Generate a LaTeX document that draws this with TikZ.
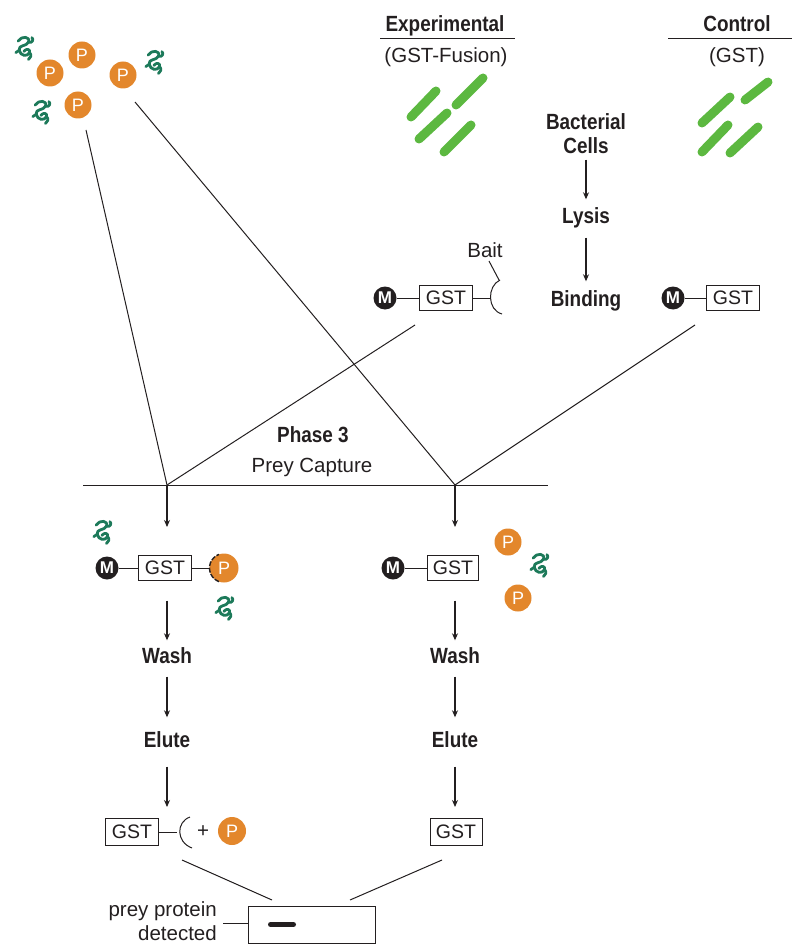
\documentclass[tikz,border=0pt]{standalone}
\usepackage{fontspec}
\setmainfont{Liberation Sans}
\newfontfamily\headfont[FakeStretch=0.86]{Liberation Sans}
\usetikzlibrary{arrows.meta}
\definecolor{ink}{HTML}{231F20}
\definecolor{porange}{HTML}{E3872C}
\definecolor{rodgreen}{HTML}{5CB840}
\definecolor{protgreen}{HTML}{1D7A5A}
\tikzset{
  protein/.pic={
    \begin{scope}[scale=1.15, protgreen, line width=2.8pt, line cap=round, line join=round]
    \draw (-6,-6) .. controls (-3,-11) and (5,-10) .. (3,-5)
              .. controls (1,-1) and (-6,-3) .. (-5,2)
              .. controls (-4,7) and (2,8) .. (4,4)
              .. controls (5,1) and (1,0) .. (-1,3);
    \draw (3,-5) .. controls (6,-4) and (8,-7) .. (6,-9);
    \draw (-5,2) -- (-8,4);
    \draw (4,4) .. controls (6,6) and (5,9) .. (3,10);
    \end{scope}
  }
}
\begin{document}
\begin{tikzpicture}[x=1pt,y=-1pt,
  lbl/.style={font=\fontsize{20.5}{22}\selectfont, text=ink, inner sep=0pt},
  head/.style={font=\headfont\bfseries\fontsize{22}{24}\selectfont, text=ink,
    inner sep=0pt, text height=15pt, text depth=0pt},
  gstbox/.style={draw=ink, line width=1pt, minimum width=53pt, minimum height=25pt,
    inner sep=0pt, font=\fontsize{19.5}{20}\selectfont, text=ink},
  mball/.style={circle, fill=ink, minimum size=23pt, inner sep=0pt, text=white,
    font=\bfseries\fontsize{17}{17}\selectfont},
  pball/.style={circle, fill=porange, minimum size=27pt, inner sep=0pt, text=white,
    font=\fontsize{18}{18}\selectfont},
  link/.style={draw=ink, line width=1pt},
  arr/.style={draw=ink, line width=1.1pt, -{Stealth[length=7pt,width=6pt]}},
  rod/.style={draw=rodgreen, line width=9pt, line cap=round}
]
\useasboundingbox (0,0) rectangle (792,944);

% ---- prey lysate (proteins P and other proteins)
\node[pball] (pa) at (50,73) {P};
\node[pball] (pb) at (82,55) {P};
\node[pball] (pc) at (123,75) {P};
\node[pball] (pd) at (78,105) {P};
\pic at (25,48) {protein};
\pic at (155,62) {protein};
\pic at (42,112) {protein};

% ---- experimental and control headings
\node[head] (exp) at (445,24) {Experimental};
\coordinate (expulA) at (380,39);
\coordinate (expulB) at (515,39);
\draw[link] (expulA) -- (expulB);
\node[lbl] (expsub) at (446,57) {(GST-Fusion)};

\node[head] (ctl) at (737,24) {Control};
\coordinate (ctlulA) at (668,39);
\coordinate (ctlulB) at (792,39);
\draw[link] (ctlulA) -- (ctlulB);
\node[lbl] (ctlsub) at (737,57) {(GST)};

% ---- bacterial cells
\draw[rod] (411,117) -- (436,91);
\draw[rod] (456,105) -- (483,78);
\draw[rod] (419,139) -- (447,113);
\draw[rod] (444,152) -- (471,125);

\draw[rod] (702,123) -- (730,97);
\draw[rod] (745,100) -- (768,82);
\draw[rod] (702,152) -- (728,125);
\draw[rod] (730,153) -- (758,127);

% ---- central procedure
\node[head] (bact) at (586,122) {Bacterial};
\node[head] (cells) at (586,146) {Cells};
\node[head] (lysis) at (586,216) {Lysis};
\node[head] (bind) at (586,299) {Binding};
\draw[arr, shorten <=6pt, shorten >=9pt] (cells) -- (lysis);
\draw[arr, shorten <=14pt, shorten >=10pt] (lysis) -- (bind);

% ---- immobilised bait (experimental)
\node[mball] (m1) at (385,298) {M};
\node[gstbox] (g1) at (446,298) {GST};
\coordinate (b1) at (491,298);
\draw[link] (m1) -- (g1);
\draw[link] (g1) -- (b1);
\draw[link] ([shift={(9,-18)}]b1) .. controls ([shift={(-4,-12)}]b1) and ([shift={(-4,12)}]b1) .. ([shift={(11,16)}]b1);
\node[lbl] (bait) at (485,250) {Bait};
\coordinate (baittip) at (499,280);
\draw[link] ([shift={(4,11)}]bait.center) -- (baittip);

% ---- immobilised GST (control)
\node[mball] (m2) at (673,298) {M};
\node[gstbox] (g2) at (733,298) {GST};
\draw[link] (m2) -- (g2);

% ---- converging lines to the capture step
\coordinate (preyL) at (86,130);
\coordinate (preyR) at (135,102);
\coordinate (expOut) at (415,325);
\coordinate (ctlOut) at (695,325);
\coordinate (j1) at (167,485);
\coordinate (j2) at (455,485);
\coordinate (barL) at (83,485);
\coordinate (barR) at (548,485);
\draw[link] (preyL) -- (j1);
\draw[link] (preyR) -- (j2);
\draw[link] (expOut) -- (j1);
\draw[link] (ctlOut) -- (j2);
\draw[link] (barL) -- (barR);

\node[head] (phase) at (313,435) {Phase 3};
\node[lbl] (capture) at (312,467) {Prey Capture};

% ---- capture results
\node[mball] (m3) at (107,568) {M};
\node[gstbox] (g3) at (165,568) {GST};
\node[pball, minimum size=29pt] (p3) at (224,568) {P};
\draw[link] (m3) -- (g3);
\draw[link] (g3) -- (p3);
\draw[ink, line width=1.4pt, dash pattern=on 5pt off 1.5pt] ([shift={(110:14.5)}]p3.center) arc[start angle=110, end angle=250, radius=14.5];
\pic at (103,532) {protein};
\pic at (225,608) {protein};

\node[mball] (m4) at (393,568) {M};
\node[gstbox, minimum width=51pt] (g4) at (453,568) {GST};
\draw[link] (m4) -- (g4);
\node[pball] (p4) at (508,542) {P};
\node[pball] (p5) at (518,598) {P};
\pic at (540,565) {protein};

\draw[arr, shorten >=28pt] (j1) -- (j1 |- g3.north);
\draw[arr, shorten >=28pt] (j2) -- (j2 |- g4.north);

% ---- wash and elute, both columns
\node[head] (w1) at (167,656) {Wash};
\node[head] (e1) at (167,740) {Elute};
\node[head] (w2) at (455,656) {Wash};
\node[head] (e2) at (455,740) {Elute};

\node[gstbox, minimum height=27pt] (g5) at (132,832) {GST};
\coordinate (b5) at (177,832);
\draw[link] (g5) -- (b5);
\draw[link] ([shift={(13,-15)}]b5) .. controls ([shift={(-1,-10)}]b5) and ([shift={(-1,10)}]b5) .. ([shift={(15,16)}]b5);
\node[lbl] (plus) at (203,832) {+};
\node[pball, minimum size=28pt] (p6) at (232,831) {P};
\node[gstbox, minimum height=27pt, minimum width=52pt] (g6) at (456,832) {GST};

\draw[arr, shorten <=19.5pt, shorten >=8pt] (g3.south -| w1) -- (w1.north);
\draw[arr, shorten <=13pt, shorten >=15pt] (w1) -- (e1);
\draw[arr, shorten <=19pt, shorten >=11pt] (e1.south) -- (e1 |- g5.north);
\draw[arr, shorten <=19.5pt, shorten >=8pt] (g4.south -| w2) -- (w2.north);
\draw[arr, shorten <=13pt, shorten >=15pt] (w2) -- (e2);
\draw[arr, shorten <=19pt, shorten >=11pt] (e2.south) -- (e2 |- g6.north);

% ---- gel readout
\node[draw=ink, line width=1pt, minimum width=127pt, minimum height=37pt, inner sep=0pt] (gel) at (311.5,924.5) {};
\draw[ink, line width=5pt, line cap=round] ([shift={(-41,0)}]gel.center) -- ([shift={(-18,0)}]gel.center);
\coordinate (fromExp) at (182,860);
\coordinate (fromCtl) at (442,860);
\coordinate (gelInL) at (272,900);
\coordinate (gelInR) at (350,900);
\draw[link] (fromExp) -- (gelInL);
\draw[link] (fromCtl) -- (gelInR);

\node[lbl, anchor=east] (prey1) at (217,911) {prey protein};
\node[lbl, anchor=east] (prey2) at (217,933) {detected};
\coordinate (tagL) at (223,923);
\draw[link] (tagL) -- (tagL -| gel.west);
\end{tikzpicture}
\end{document}
